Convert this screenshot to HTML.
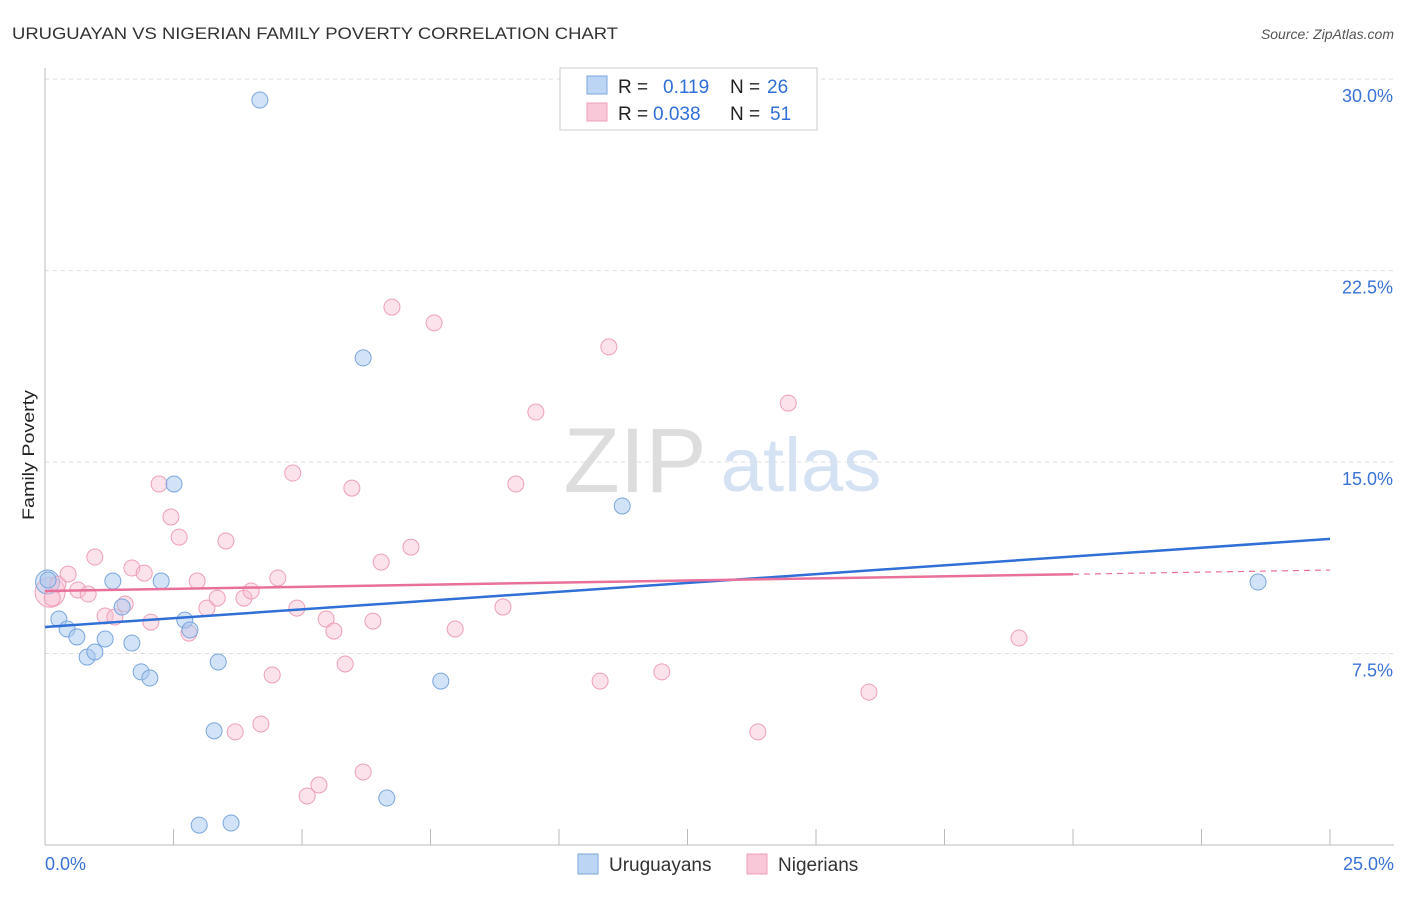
<!DOCTYPE html>
<html><head><meta charset="utf-8"><style>
body{margin:0;background:#fff;font-family:"Liberation Sans",sans-serif;}
svg text{font-family:"Liberation Sans",sans-serif;}
</style></head><body>
<svg id="c" width="1406" height="892">
<text x="12" y="39" font-size="17" fill="#333" textLength="606" lengthAdjust="spacingAndGlyphs">URUGUAYAN VS NIGERIAN FAMILY POVERTY CORRELATION CHART</text>
<text x="1394" y="39" font-size="14" font-style="italic" fill="#555" text-anchor="end">Source: ZipAtlas.com</text>
<text x="34" y="455" font-size="17" fill="#222" text-anchor="middle" textLength="130" lengthAdjust="spacingAndGlyphs" transform="rotate(-90 34 455)">Family Poverty</text>
<text x="635" y="492" font-size="92" fill="#ddd" font-family="Liberation Serif" text-anchor="middle">ZIP</text>
<text x="801" y="491" font-size="76" fill="#d4e2f4" text-anchor="middle">atlas</text>
<g id="grid"></g><g id="pts"></g><g id="lines"></g>
<g>
<rect x="560" y="68" width="257" height="62" fill="#fff" stroke="#ccc"/>
<rect x="587" y="76" width="20" height="18" fill="#bcd5f5" stroke="#7aa6de"/>
<text x="618" y="93" font-size="19" fill="#222">R = </text><text x="663" y="93" font-size="19" fill="#2f6fd6">0.119</text>
<text x="730" y="93" font-size="19" fill="#222">N = </text><text x="767" y="93" font-size="19" fill="#2f6fd6">26</text>
<rect x="587" y="103" width="20" height="18" fill="#f9c8d8" stroke="#eea0b8"/>
<text x="618" y="120" font-size="19" fill="#222">R = </text><text x="653" y="120" font-size="19" fill="#2f6fd6">0.038</text>
<text x="730" y="120" font-size="19" fill="#222">N = </text><text x="770" y="120" font-size="19" fill="#2f6fd6">51</text>
</g>
<g>
<rect x="578" y="854" width="20" height="20" fill="#bcd5f5" stroke="#7aa6de"/>
<text x="609" y="871" font-size="19" fill="#333">Uruguayans</text>
<rect x="747" y="854" width="20" height="20" fill="#f9c8d8" stroke="#eea0b8"/>
<text x="778" y="871" font-size="19" fill="#333">Nigerians</text>
</g>
</svg>
<script>
const yTicks=[7.5,15,22.5,30];
const xTickLabels=["0.0%","25.0%"];
const uruX=[0.06,0.27,0.43,0.62,0.82,0.97,1.17,1.32,1.50,1.69,1.87,2.04,2.26,2.51,2.72,2.82,3.00,3.29,3.37,3.62,4.18,6.19,6.65,7.70,11.23,23.60];
const uruY=[10.38,8.85,8.46,8.15,7.36,7.56,8.07,10.34,9.32,7.91,6.78,6.54,10.34,14.14,8.81,8.42,0.78,4.47,7.17,0.86,29.18,19.08,1.84,6.42,13.28,10.30];
const nigX=[0.14,0.25,0.45,0.64,0.84,0.97,1.17,1.36,1.56,1.69,1.93,2.06,2.22,2.45,2.61,2.80,2.96,3.15,3.35,3.52,3.70,3.87,4.01,4.20,4.42,4.53,4.82,4.90,5.10,5.33,5.47,5.62,5.84,5.97,6.19,6.38,6.54,6.75,7.12,7.57,7.98,8.91,9.16,9.55,10.80,10.97,12.00,13.87,14.46,16.03,18.95];
const nigY=[9.67,10.22,10.61,9.99,9.83,11.28,8.97,8.93,9.44,10.85,10.65,8.73,14.14,12.85,12.06,8.30,10.34,9.28,9.67,11.91,4.43,9.67,9.95,4.74,6.66,10.46,14.57,9.28,1.92,2.35,8.85,8.38,7.09,13.98,2.86,8.77,11.08,21.07,11.67,20.45,8.46,9.32,14.14,16.96,6.42,19.51,6.78,4.43,17.31,5.99,8.11];
const uruTrend=[8.54,11.99];
const nigTrend=[9.95,10.77];
const X=v=>45+v*51.4, Y=v=>845-v*25.53;
const NS="http://www.w3.org/2000/svg";
function mk(t,a,p){const e=document.createElementNS(NS,t);for(const k in a)e.setAttribute(k,a[k]);p.appendChild(e);return e;}
const g=document.getElementById('grid');
yTicks.forEach(t=>{
 const l=mk('line',{x1:45,x2:1394,y1:Y(t),y2:Y(t),stroke:'#ddd','stroke-dasharray':'4 4'},g);
 
 
 const tx=mk('text',{x:1393,y:Y(t)+23,'font-size':18,fill:'#3a72d6','text-anchor':'end'},g);
 tx.textContent=t.toFixed(1)+'%';
 
 
});
mk('line',{x1:45,x2:45,y1:68,y2:845,stroke:'#bbb'},g);
mk('line',{x1:45,x2:1394,y1:845,y2:845,stroke:'#bbb'},g);
for(let i=0;i<=10;i++){const t=mk('line',{x1:X(i*2.5),x2:X(i*2.5),y1:829,y2:845,stroke:'#bbb'},g);
 
 }
xTickLabels.forEach((s,i)=>{const t=mk('text',{x:i?1394:45,y:870,'font-size':18,fill:'#3a72d6','text-anchor':i?'end':'start'},g);t.textContent=s;
 
 });
const p=document.getElementById('pts');
mk('circle',{cx:X(0.1),cy:Y(9.9),r:15,fill:'rgba(248,190,210,0.45)',stroke:'#eea0b8'},p);
mk('circle',{cx:X(0.05),cy:Y(10.3),r:12,fill:'rgba(168,200,240,0.45)',stroke:'#7aa6de'},p);
nigX.forEach((x,i)=>{const c=mk('circle',{cx:X(x),cy:Y(nigY[i]),r:8,fill:'rgba(248,190,210,0.45)',stroke:'#eea0b8'},p);
 
 });
uruX.forEach((x,i)=>{const c=mk('circle',{cx:X(x),cy:Y(uruY[i]),r:8,fill:'rgba(168,200,240,0.5)',stroke:'#7aa6de'},p);
 
 });
const L=document.getElementById('lines');
const b=mk('line',{x1:X(0),y1:Y(uruTrend[0]),x2:X(25),y2:Y(uruTrend[1]),stroke:'#2f6fd6','stroke-width':2.5},L);


const mid=nigTrend[0]+(nigTrend[1]-nigTrend[0])*0.8;
const n1=mk('line',{x1:X(0),y1:Y(nigTrend[0]),x2:X(20),y2:Y(mid),stroke:'#e8709a','stroke-width':2.5},L);


const n2=mk('line',{x1:X(20),y1:Y(mid),x2:X(25),y2:Y(nigTrend[1]),stroke:'#e8709a','stroke-width':1.2,'stroke-dasharray':'6 5'},L);


</script>
</body></html>
